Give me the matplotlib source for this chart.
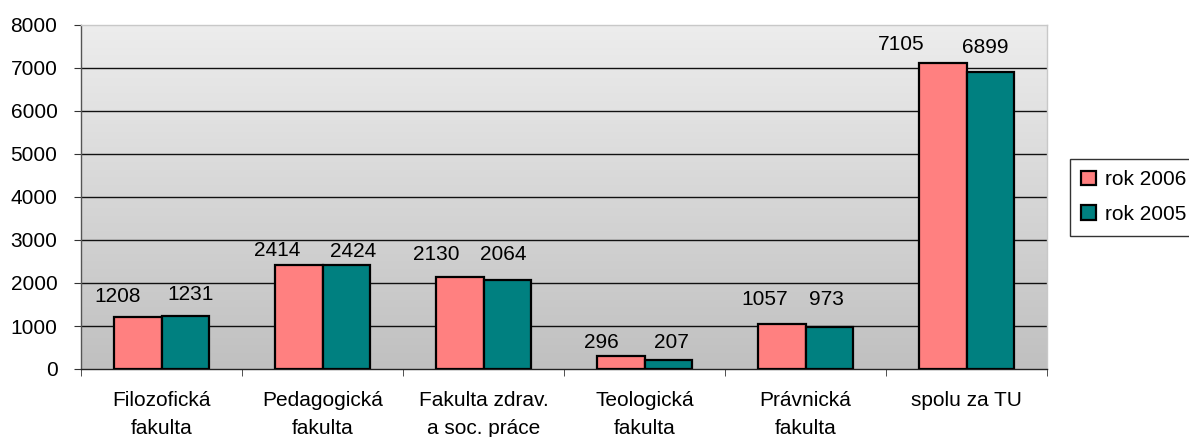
import numpy as np
import matplotlib
matplotlib.use("Agg")
import matplotlib.pyplot as plt
from matplotlib.colors import LinearSegmentedColormap

plt.rcParams['font.family'] = ['Liberation Sans', 'DejaVu Sans']

# --- data ---
fakulty = ["Filozofická\nfakulta", "Pedagogická\nfakulta", "Fakulta zdrav.\na soc. práce",
           "Teologická\nfakulta", "Právnická\nfakulta", "spolu za TU"]
rok_2006 = [1208, 2414, 2130, 296, 1057, 7105]
rok_2005 = [1231, 2424, 2064, 207, 973, 6899]

# posun popiskov (px) - v Exceli boli rucne posunute
posun_2006 = [(-20, 21), (-22, 15), (-24, 23), (-20, 14), (-17, 24), (-42, 19)]
posun_2005 = [(6, 22), (7, 13), (-4, 26), (3, 18), (-3, 28), (-5, 25)]

fig = plt.figure(figsize=(11.89, 4.37), dpi=100)
ax = fig.add_axes([81 / 1189, 68 / 437, 966 / 1189, 344 / 437])

# gradient pozadia
cmap = LinearSegmentedColormap.from_list("bg", ["#c0c0c0", "#ededed"])
ax.imshow(np.linspace(0, 1, 256).reshape(-1, 1), cmap=cmap, aspect="auto",
          extent=[-0.5, 5.5, 0, 8000], origin="lower", zorder=0)

x = np.arange(len(fakulty))
w = 0.292
b1 = ax.bar(x - w / 2, rok_2006, w, color="#ff8080", edgecolor="black", linewidth=1.6,
            label="rok 2006", zorder=3)
b2 = ax.bar(x + w / 2, rok_2005, w, color="#008080", edgecolor="black", linewidth=1.6,
            label="rok 2005", zorder=3)

for i in range(len(fakulty)):
    ax.annotate(str(rok_2006[i]), (x[i] - w / 2, rok_2006[i]), xytext=posun_2006[i],
                textcoords="offset pixels", ha="center", va="center", fontsize=15, zorder=4)
    ax.annotate(str(rok_2005[i]), (x[i] + w / 2, rok_2005[i]), xytext=posun_2005[i],
                textcoords="offset pixels", ha="center", va="center", fontsize=15, zorder=4)

ax.set_xlim(-0.5, 5.5)
ax.set_ylim(0, 8000)
ax.set_yticks(range(0, 8001, 1000))
for y in range(1000, 8000, 1000):
    ax.axhline(y, color="#111111", linewidth=1.0, zorder=1)

ax.set_xticks(x)
ax.set_xticklabels(fakulty, fontsize=15, linespacing=1.58, va="top")
ax.set_xticks(np.arange(-0.5, 6, 1), minor=True)
ax.tick_params(axis="x", which="major", length=0, pad=16)
ax.tick_params(axis="x", which="minor", length=5, direction="out", color="#333333")
ax.tick_params(axis="y", length=5, direction="out", pad=12, labelsize=15, color="#333333")

ax.spines["left"].set_color("#555555")
ax.spines["bottom"].set_color("#222222")
ax.spines["top"].set_color("#c8c8c8")
ax.spines["right"].set_color("#c8c8c8")
for s in ax.spines.values():
    s.set_linewidth(1.0)

leg = fig.legend(handles=[b1, b2], loc="upper left", bbox_to_anchor=(1070 / 1189, 1 - 159 / 437),
                 fontsize=15, frameon=True, fancybox=False, edgecolor="black",
                 handlelength=0.7, handleheight=0.7, handletextpad=0.45,
                 labelspacing=0.75, borderpad=0.55, borderaxespad=0)
leg.get_frame().set_linewidth(1.0)

fig.savefig("out.png", dpi=100)
